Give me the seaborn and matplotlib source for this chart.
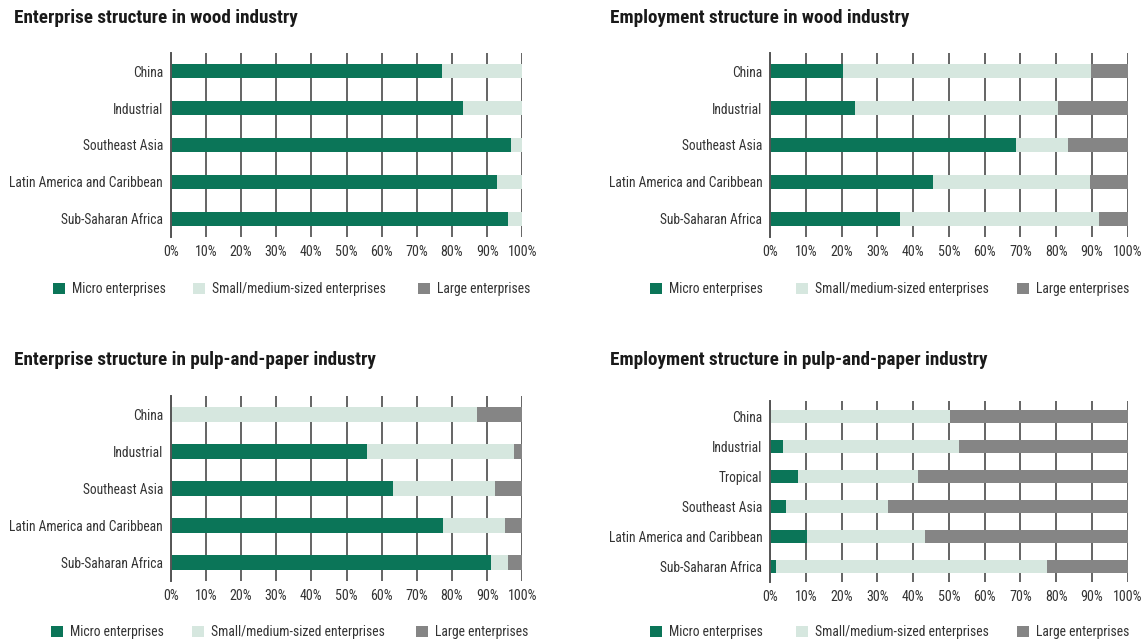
import seaborn as sns
import matplotlib.pyplot as plt
import pandas as pd
from matplotlib.patches import Patch
from matplotlib import font_manager

sns.set_style("white")
names = {f.name for f in font_manager.fontManager.ttflist}
narrow = [n for n in ["Roboto Condensed", "Liberation Sans Narrow", "Open Sans Condensed"] if n in names]
fam = narrow[0] if narrow else "Liberation Sans"
plt.rcParams["font.family"] = [fam, "DejaVu Sans"]
scale = 1.12 if narrow else 1.0

# 数据
regions = ["China", "Industrial", "Southeast Asia", "Latin America and Caribbean", "Sub-Saharan Africa"]
regions_emp_pulp = ["China", "Industrial", "Tropical", "Southeast Asia",
                    "Latin America and Caribbean", "Sub-Saharan Africa"]
series_names = ["Micro enterprises", "Small/medium-sized enterprises", "Large enterprises"]

ent_wood_micro = [77.2, 83.0, 96.8, 92.9, 95.9]
ent_wood_sme = [22.8, 17.0, 3.2, 7.1, 4.1]
ent_wood_large = [0, 0, 0, 0, 0]

emp_wood_micro = [20.3, 23.7, 68.8, 45.5, 36.3]
emp_wood_sme = [69.4, 56.8, 14.6, 43.9, 55.7]
emp_wood_large = [10.3, 19.5, 16.6, 10.6, 8.0]

ent_pulp_micro = [0, 55.8, 63.2, 77.4, 91.2]
ent_pulp_sme = [87.2, 41.7, 28.9, 17.7, 4.8]
ent_pulp_large = [12.8, 2.5, 7.9, 4.9, 4.0]

emp_pulp_micro = [0, 3.7, 7.7, 4.5, 10.4, 1.7]
emp_pulp_sme = [50.4, 49.1, 33.6, 28.5, 32.9, 75.8]
emp_pulp_large = [49.6, 47.2, 58.7, 67.0, 56.7, 22.5]

xticks = list(range(0, 101, 10))
titles = ["Enterprise structure in wood industry", "Employment structure in wood industry",
          "Enterprise structure in pulp-and-paper industry", "Employment structure in pulp-and-paper industry"]

colors = ["#0b7558", "#d6e7df", "#858585"]
W, H = 1147, 644

fig = plt.figure(figsize=(W / 100, H / 100), dpi=100)


def px_axes(left, right, top, bottom):
    return fig.add_axes([left / W, 1 - bottom / H, (right - left) / W, (bottom - top) / H])


def stacked(ax, cats, micro, sme, large, width):
    df = pd.DataFrame({"region": cats, "micro": micro, "sme": sme, "large": large})
    df["c2"] = df["micro"] + df["sme"]
    df["c3"] = df["c2"] + df["large"]
    for col, c in zip(["c3", "c2", "micro"], colors[::-1]):
        sns.barplot(data=df, x=col, y="region", orient="h", color=c, width=width,
                    linewidth=0, saturation=1, ax=ax)
    ax.set_xlim(0, 100)
    ax.set_ylim(len(cats) - 0.5, -0.5)
    ax.set_xticks(xticks)
    ax.set_xticklabels([f"{t}%" for t in xticks])
    ax.set_xlabel("")
    ax.set_ylabel("")
    ax.set_axisbelow(True)
    ax.grid(axis="x", color="#3a3a3a", linewidth=1.1)
    ax.grid(axis="y", visible=False)
    for s in ["top", "right", "bottom"]:
        ax.spines[s].set_visible(False)
    ax.spines["left"].set_color("#555555")
    ax.spines["left"].set_linewidth(1.4)
    ax.tick_params(axis="x", length=0, labelsize=9 * scale, colors="#333333", pad=6)
    ax.tick_params(axis="y", length=0, labelsize=8.7 * scale, colors="#333333", pad=5.5)


panels = [
    (px_axes(170.7, 522.3, 53, 237), regions, ent_wood_micro, ent_wood_sme, ent_wood_large, 0.38),
    (px_axes(770, 1127.7, 53, 237), regions, emp_wood_micro, emp_wood_sme, emp_wood_large, 0.38),
    (px_axes(170.7, 522.3, 396, 581), regions, ent_pulp_micro, ent_pulp_sme, ent_pulp_large, 0.38),
    (px_axes(770, 1127.7, 401, 582), regions_emp_pulp, emp_pulp_micro, emp_pulp_sme, emp_pulp_large, 0.43),
]
for ax, cats, m, s, l, w in panels:
    stacked(ax, cats, m, s, l, w)

title_pos = [(14, 18), (610, 18), (14, 360), (610, 360)]
for (x, y), t in zip(title_pos, titles):
    fig.text(x / W, 1 - y / H, t, fontsize=12.3 * scale, fontweight="bold", color="#1a1a1a",
             ha="left", va="center")

# legend entries placed one by one so the gaps match the reference
handles = [Patch(facecolor=c, edgecolor="none") for c in colors]
leg_x = [[53, 193, 418], [650, 796, 1017], [51, 192, 416], [650, 796, 1017]]
leg_y = [289, 289, 632, 632]
for xs, y in zip(leg_x, leg_y):
    for h, n, x in zip(handles, series_names, xs):
        fig.legend([h], [n], loc="center left", bbox_to_anchor=(x / W, 1 - y / H),
                   frameon=False, fontsize=8.75 * scale, labelcolor="#333333",
                   borderpad=0, borderaxespad=0,
                   handlelength=0.9, handleheight=0.9, handletextpad=0.5)

fig.savefig("out.png", dpi=100)
